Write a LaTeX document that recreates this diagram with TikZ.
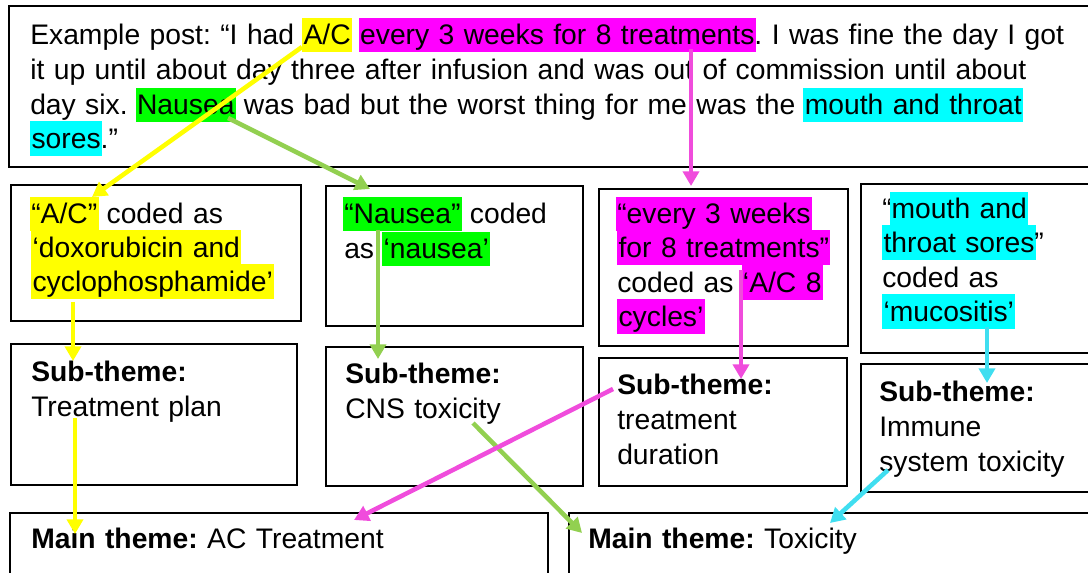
\documentclass[tikz,border=0pt]{standalone}
\usepackage{fontspec}
\setmainfont{Liberation Sans}
\usetikzlibrary{arrows.meta,fit}

\definecolor{hlyellow}{RGB}{255,255,0}
\definecolor{hlpink}{RGB}{255,0,255}
\definecolor{hlgreen}{RGB}{0,255,0}
\definecolor{hlcyan}{RGB}{0,255,255}
\definecolor{argreen}{RGB}{146,208,80}
\definecolor{arpink}{RGB}{240,76,220}
\definecolor{arcyan}{RGB}{64,222,240}

\newcommand{\hstrut}{\rule[-5.5pt]{0pt}{26pt}}
\newcommand{\hlt}[2]{{\setlength{\fboxsep}{0pt}\kern-1pt\colorbox{#1}{\kern1pt\hstrut #2\kern1pt}\kern-1pt}}

\begin{document}
\begin{tikzpicture}[x=0.75pt,y=-0.75pt,
  box/.style={draw,line width=1.3pt,inner sep=0pt},
  txt/.style={anchor=base west,inner sep=0pt,align=left,text width=#1,
    font=\fontsize{21.2}{26.25}\selectfont\frenchspacing},
  txt/.default=230pt,
  arr/.style={draw=#1,line width=3.4pt,-{Triangle[length=11pt,width=12pt]}}]
  \useasboundingbox (0,0) rectangle (1088,573);
  % boxes
  \node[box,line width=1.8pt,fit={(9,6) (1100,167)}] (post) {};
  \node[box,fit={(11,185) (301,321)}] (codeac) {};
  \node[box,fit={(326,186) (583,326)}] (codenausea) {};
  \node[box,fit={(599,189) (848,346)}] (codecycles) {};
  \node[box,fit={(861,184) (1100,353)}] (codesores) {};
  \node[box,fit={(11,344) (297,485)}] (subplan) {};
  \node[box,fit={(326,347) (583,486)}] (subcns) {};
  \node[box,fit={(599,358) (847,486)}] (subduration) {};
  \node[box,fit={(861,364) (1100,492)}] (subimmune) {};
  \node[box,fit={(10,513) (548,600)}] (mainac) {};
  \node[box,fit={(569,513) (1100,600)}] (maintox) {};
  %
  \node[txt=800pt] (posttext) at (30,45) {Example post: “I had \hlt{hlyellow}{A/C} \hlt{hlpink}{every 3 weeks for 8 treatments}. I was fine the day I got\\
    it up until about day three after infusion and was out of commission until about\\
    day six. \hlt{hlgreen}{Nausea} was bad but the worst thing for me was the \hlt{hlcyan}{mouth and throat}\\
    \hlt{hlcyan}{sores}.”};
  \node[txt] (actext) at (31,224) {\hlt{hlyellow}{“A/C”} coded as\\ \hlt{hlyellow}{‘doxorubicin and}\\ \hlt{hlyellow}{cyclophosphamide’}};
  \node[txt] (nauseatext) at (344,224) {\hlt{hlgreen}{“Nausea”} coded\\ as \hlt{hlgreen}{‘nausea’}};
  \node[txt] (cyclestext) at (617,224) {\hlt{hlpink}{“every 3 weeks}\\ \hlt{hlpink}{for 8 treatments”}\\ coded as \hlt{hlpink}{‘A/C 8}\\ \hlt{hlpink}{cycles’}};
  \node[txt] (sorestext) at (882,219) {“\hlt{hlcyan}{mouth and}\\ \hlt{hlcyan}{throat sores}”\\ coded as\\ \hlt{hlcyan}{‘mucositis’}};
  %
  \node[txt] (plantext) at (31,381) {\textbf{Sub-theme:}\\ Treatment plan};
  \node[txt] (cnstext) at (345,383) {\textbf{Sub-theme:}\\ CNS toxicity};
  \node[txt] (durationtext) at (617,394) {\textbf{Sub-theme:}\\ treatment\\ duration};
  \node[txt] (immunetext) at (879,401) {\textbf{Sub-theme:}\\ Immune\\ system toxicity};
  \node[txt=400pt] (actreattext) at (31,548) {\textbf{Main theme:} AC Treatment};
  \node[txt=400pt] (toxtext) at (588,548) {\textbf{Main theme:} Toxicity};
  % arrow ends
  \coordinate (acword) at (302,47);
  \coordinate (acin) at (92,197);
  \coordinate (acout) at (73,302);
  \coordinate (planin) at (73,361);
  \coordinate (planout) at (75,418);
  \coordinate (acmain) at (75,534);
  \coordinate (nauseaword) at (228,118);
  \coordinate (nauseain) at (370,189);
  \coordinate (nauseaout) at (378,230);
  \coordinate (cnsin) at (378,359);
  \coordinate (cnsout) at (473,423);
  \coordinate (toxmain) at (582,533);
  \coordinate (weeksword) at (691,49);
  \coordinate (cyclesin) at (691,186);
  \coordinate (cyclesout) at (741,270);
  \coordinate (durationin) at (741,379);
  \coordinate (durationout) at (613,389);
  \coordinate (acmaintop) at (354,520);
  \coordinate (soresout) at (987,327);
  \coordinate (immunein) at (987,383);
  \coordinate (immuneout) at (888,470);
  \coordinate (toxmaintop) at (830,523);
  % connectors
  \draw[arr=hlyellow] (acword) -- (acin);
  \draw[arr=hlyellow] (acout) -- (planin);
  \draw[arr=hlyellow] (planout) -- (acmain);
  \draw[arr=argreen] (nauseaword) -- (nauseain);
  \draw[arr=argreen] (nauseaout) -- (cnsin);
  \draw[arr=argreen] (cnsout) -- (toxmain);
  \draw[arr=arpink] (weeksword) -- (cyclesin);
  \draw[arr=arpink] (cyclesout) -- (durationin);
  \draw[arr=arpink] (durationout) -- (acmaintop);
  \draw[arr=arcyan] (soresout) -- (immunein);
  \draw[arr=arcyan] (immuneout) -- (toxmaintop);
\end{tikzpicture}
\end{document}
